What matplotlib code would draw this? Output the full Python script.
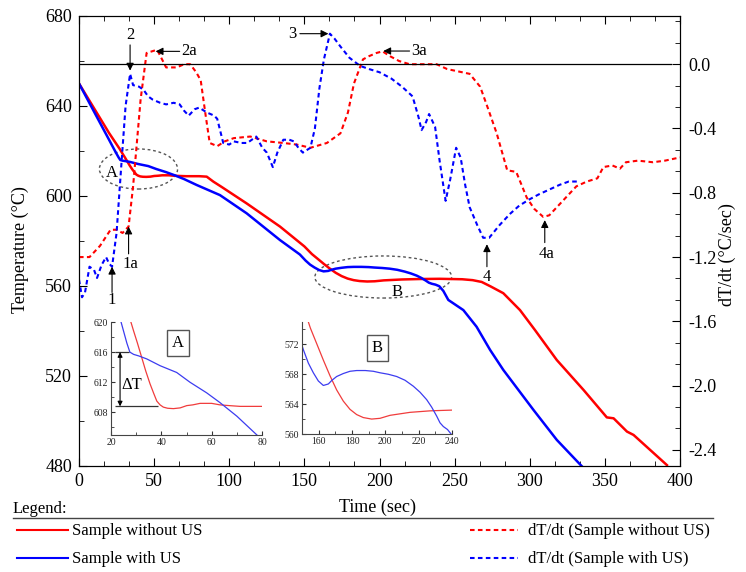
import matplotlib
matplotlib.use('Agg')
from matplotlib import pyplot as plt
from matplotlib.patches import Ellipse
from matplotlib.lines import Line2D
from matplotlib.ticker import MultipleLocator, FormatStrFormatter

plt.rcParams['font.family'] = ['Liberation Serif', 'DejaVu Serif']
plt.rcParams['axes.unicode_minus'] = False

# temperature, sample without US
t_without = [0, 10, 20, 27, 28.9, 30.5, 32.2, 33.8, 35.5, 37, 38.2, 39.5, 40.8, 42.5, 44.8, 47.5, 50.1,
             52.5, 55.4, 60, 63.3, 67, 71.3, 76, 80, 85, 89.4, 95, 111.6, 133.8, 150, 155, 159, 162.8,
             166.8, 170.8, 174.8, 178.8, 182.8, 186.8, 191.8, 196.8, 199.8, 202.8, 208.8, 214.8, 220.8,
             226.8, 233, 240, 255, 262, 268, 274, 282.4, 293.5, 303.5, 318, 335.8, 351.3, 355.8, 364.7,
             369.1, 391.3]
T_without = [650, 639, 628, 621, 618.9, 617.2, 615.3, 613.5, 611.8, 610.5, 609.5, 609.0, 608.7, 608.55, 608.5, 608.6, 608.9,
             609.0, 609.2, 609.2, 609.0, 608.9, 608.8, 608.8, 608.8, 608.6, 606.4, 604, 596.7, 586.4, 577.6, 574.2, 572, 569.9,
             567.8, 565.9, 564.4, 563.3, 562.6, 562.2, 562.0, 562.1, 562.3, 562.5, 562.7, 562.9, 563.0,
             563.1, 563.15, 563.2, 563.0, 562.6, 561.8, 559.8, 556.8, 549.3, 540.4, 527.1, 513.8, 501.6, 501.2, 495.3,
             493.8, 480.4]

# temperature, sample with US
t_with = [0, 10, 20, 23.5, 24.9, 26.3, 27.5, 29, 31, 34.2, 39.5, 46.1, 51.4, 58, 63.3, 70, 78.3, 93.8, 111.6,
          133.8, 147, 150.8, 153.8, 156.8, 159.8, 162.8, 165.8, 168, 170.8, 174.8, 178.8, 182.8, 188, 192.8,
          196.8, 201.8, 206.8, 211.8, 216.8, 220.8, 224.8, 227.8, 230.8, 232.8, 234.8, 237.3, 239.8, 242.5,
          245.8, 255.8, 264.6, 273.6, 282.4, 302.5, 318, 334.5]
T_with = [650, 637.5, 625, 620.6, 618.9, 617.2, 616, 615.7, 615.5, 615.1, 614.2, 613.3, 612, 610.6, 609.3, 607.5, 604.9, 600.4, 592.3,
          580.4, 574, 571.3, 569.5, 568.2, 567.1, 566.5, 566.7, 567.2, 567.7, 568.1, 568.4, 568.5, 568.5, 568.4,
          568.2, 568.0, 567.7, 567.2, 566.4, 565.6, 564.6, 563.6, 562.4, 561.5, 561, 560.6, 559.9, 557.8,
          553.8, 549.3, 541.9, 531.6, 522.7, 504.9, 491.6, 480]

# cooling rate dT/dt, sample without US
rt_without = [0, 7, 14, 21, 25, 29, 33, 36, 41, 45, 52, 58, 65, 70, 74, 78, 81, 84, 87, 92, 97, 103, 114,
              125, 136, 145, 154, 165, 174, 179, 183, 189, 193, 198, 202, 207, 213, 220, 238, 245, 260,
              267, 272, 278, 285, 291, 298, 303, 309, 313, 318, 325, 331, 338, 345, 349, 355, 360, 364,
              372, 382, 390, 400]
rate_without = [-1.2, -1.2, -1.13, -1.03, -1.03, -1.05, -1.01, -0.76, -0.22, 0.07, 0.09, -0.02, -0.02, 0.0, 0.0, -0.05, -0.1, -0.3, -0.49, -0.51, -0.48, -0.46, -0.45,
                -0.48, -0.49, -0.5, -0.52, -0.49, -0.43, -0.3, -0.12, 0.03, 0.05, 0.07, 0.08, 0.05, 0.02, 0.0, 0.0, -0.03, -0.06,
                -0.14, -0.27, -0.43, -0.66, -0.67, -0.83, -0.9, -0.95, -0.94, -0.89, -0.82, -0.76, -0.73, -0.71, -0.64, -0.63, -0.65, -0.61,
                -0.6, -0.61, -0.6, -0.58]

# cooling rate dT/dt, sample with US
rt_with = [0, 2, 4, 7, 10, 12, 15, 18, 20, 22, 25, 28, 31, 34, 36, 40, 43, 46, 49, 54, 58, 63, 67, 70, 73,
           77, 80, 85, 90, 92, 96, 100, 103, 108, 112, 115, 118, 122, 125, 129, 132, 136, 140, 143, 146,
           149, 154, 157, 160, 163, 167, 170, 174, 180, 187, 193, 200, 208, 215, 222, 226, 228, 231, 233,
           235, 237, 240, 244, 247, 251, 254, 257, 260, 265, 269, 273, 280, 287, 293, 300, 306, 313, 320,
           326, 333]
rate_with = [-1.34, -1.45, -1.42, -1.26, -1.28, -1.33, -1.25, -1.2, -1.24, -1.26, -1.05, -0.65, -0.26, -0.06, -0.13, -0.14, -0.16, -0.2, -0.22, -0.24, -0.25, -0.24, -0.25, -0.29, -0.32,
             -0.28, -0.27, -0.3, -0.32, -0.34, -0.49, -0.5, -0.48, -0.49, -0.49, -0.47, -0.45, -0.52, -0.55, -0.64, -0.55, -0.47, -0.47, -0.48, -0.52,
             -0.55, -0.52, -0.4, -0.15, 0.03, 0.19, 0.16, 0.11, 0.04, -0.01, -0.03, -0.05, -0.09, -0.14, -0.2, -0.33, -0.41, -0.36, -0.31,
             -0.35, -0.39, -0.6, -0.85, -0.72, -0.52, -0.58, -0.75, -0.89, -1.0, -1.08, -1.08, -1.0, -0.93, -0.88, -0.84, -0.81, -0.78, -0.75,
             -0.73, -0.73]

# arrow labels on the dT/dt curves: (label, tip, tail, text position, ha)
markers = [
    ('1', (22, -1.26), (22, -1.42), (22, -1.47), 'center'),
    ('1a', (33, -1.01), (33, -1.18), (34, -1.24), 'center'),
    ('2', (34, -0.04), (34, 0.12), (34, 0.18), 'center'),
    ('2a', (51, 0.08), (67, 0.08), (68, 0.08), 'left'),
    ('3', (166, 0.19), (147, 0.19), (145, 0.19), 'right'),
    ('3a', (202.5, 0.082), (220, 0.082), (221, 0.082), 'left'),
    ('4', (271.5, -1.12), (271.5, -1.26), (271.5, -1.325), 'center'),
    ('4a', (310, -0.97), (310, -1.11), (311, -1.18), 'center'),
]

RED = '#ff0000'
BLUE = '#0000ff'
W, H = 746, 572


def box(x0, y0, x1, y1):
    return [x0 / W, 1 - y1 / H, (x1 - x0) / W, (y1 - y0) / H]


fig = plt.figure(figsize=(W / 100, H / 100), dpi=100)
ax = fig.add_axes(box(79, 16, 680, 466))
ax2 = ax.twinx()

ax.plot(t_without, T_without, color=RED, lw=1.8)
ax.plot(t_with, T_with, color=BLUE, lw=1.8)
dash = (0, (2.2, 1.6))
ax2.plot(rt_without, rate_without, color=RED, lw=1.5, ls=dash)
ax2.plot(rt_with, rate_with, color=BLUE, lw=1.5, ls=dash)
ax2.axhline(0, xmax=0.985, color='k', lw=0.9)

ax.set_xlim(0, 400)
ax.set_ylim(480, 680)
ax2.set_ylim(-2.5, 0.3)
ax.xaxis.set_major_locator(MultipleLocator(50))
ax.xaxis.set_minor_locator(MultipleLocator(50 / 3))
ax.yaxis.set_major_locator(MultipleLocator(40))
ax.yaxis.set_minor_locator(MultipleLocator(20))
ax2.yaxis.set_major_locator(MultipleLocator(0.4))
ax2.yaxis.set_minor_locator(MultipleLocator(0.4 / 3))
ax2.yaxis.set_major_formatter(FormatStrFormatter('%.1f'))

ax.tick_params(which='both', direction='in', top=True, labelsize=13, pad=5)
ax.tick_params(which='major', length=6)
ax.tick_params(which='minor', length=3.5)
ax2.tick_params(which='both', direction='in', labelsize=13, pad=6)
ax2.tick_params(which='major', length=6)
ax2.tick_params(which='minor', length=3.5)

ax.set_xlabel('Time (sec)', fontsize=13)
ax.xaxis.set_label_coords(0.4975, -0.072)
ax.set_ylabel('Temperature (°C)', fontsize=13)
ax.yaxis.set_label_coords(-0.083, 0.48)
ax2.set_ylabel('dT/dt (°C/sec)', fontsize=13, rotation=90)
ax2.yaxis.set_label_coords(1.065, 0.47)

# dashed ellipses marking regions A and B
ax.add_patch(Ellipse((39.6, 612), 52, 17.8, fill=False, ls=(0, (2, 2)), lw=1, ec='#555555'))
ax.add_patch(Ellipse((202.5, 564), 91, 18.7, fill=False, ls=(0, (2, 2)), lw=1, ec='#555555'))
ax.text(22, 610.2, 'A', fontsize=12, ha='center', va='center')
ax.text(211.6, 557.3, 'B', fontsize=12, ha='center', va='center')

for label, tip, tail, pos, ha in markers:
    ax2.annotate('', xy=tip, xytext=tail,
                 arrowprops=dict(arrowstyle='-|>', color='k', lw=0.8, mutation_scale=11, shrinkA=0, shrinkB=0))
    ax2.text(pos[0], pos[1], label, fontsize=12, ha=ha, va='center')

# inset A
axa = fig.add_axes(box(111, 322, 262, 435))
axa.patch.set_alpha(0)
axa.plot(t_without, T_without, color='#f03c3c', lw=0.9)
axa.plot(t_with, T_with, color='#3c3cf0', lw=0.9)
axa.set_xlim(20, 80)
axa.set_ylim(605, 620)
axa.xaxis.set_major_locator(MultipleLocator(20))
axa.xaxis.set_minor_locator(MultipleLocator(10))
axa.yaxis.set_major_locator(MultipleLocator(4))
axa.yaxis.set_minor_locator(MultipleLocator(2))
axa.annotate('', xy=(23.6, 616), xytext=(23.6, 608.8),
             arrowprops=dict(arrowstyle='<|-|>', color='k', lw=0.8, mutation_scale=7, shrinkA=0, shrinkB=0))
axa.hlines([616, 608.8], [21.6, 21.6], [27.2, 38.6], color='#333333', lw=0.9)
axa.text(24.3, 611.7, 'ΔT', fontsize=12, ha='left', va='center')
axa.text(46.6, 617.2, 'A', fontsize=12, ha='center', va='center',
         bbox=dict(boxstyle='square,pad=0.3', fc='white', ec='#555555', lw=1))

# inset B
axb = fig.add_axes(box(302, 322, 452, 434))
axb.patch.set_alpha(0)
axb.plot(t_without, T_without, color='#f03c3c', lw=0.9)
axb.plot(t_with, T_with, color='#3c3cf0', lw=0.9)
axb.set_xlim(150, 240)
axb.set_ylim(560, 575)
axb.xaxis.set_major_locator(MultipleLocator(20))
axb.xaxis.set_minor_locator(MultipleLocator(10))
axb.yaxis.set_major_locator(MultipleLocator(4))
axb.yaxis.set_minor_locator(MultipleLocator(2))
axb.text(195, 571.5, 'B', fontsize=12, ha='center', va='center',
         bbox=dict(boxstyle='square,pad=0.3', fc='white', ec='#555555', lw=1))

for a in (axa, axb):
    a.spines['top'].set_visible(False)
    a.spines['right'].set_visible(False)
    for s in ('left', 'bottom'):
        a.spines[s].set_color('#444444')
        a.spines[s].set_linewidth(0.8)
    a.tick_params(which='both', direction='in', labelsize=7, pad=2, colors='#333333')
    a.tick_params(which='major', length=3)
    a.tick_params(which='minor', length=2)
    for lab in a.get_xticklabels() + a.get_yticklabels():
        lab.set_color('#222222')

# legend block under the chart
fig.text(13 / W, 1 - 509 / H, 'Legend:', fontsize=12, ha='left', va='center')
fig.add_artist(Line2D([13 / W, 713 / W], [1 - 518 / H, 1 - 518 / H], color='#444444', lw=1))
entries = [
    (17, 68, 72, 530, RED, '-', 'Sample without US'),
    (17, 68, 72, 558, BLUE, '-', 'Sample with US'),
    (470, 518, 528, 530, RED, dash, 'dT/dt (Sample without US)'),
    (470, 518, 528, 558, BLUE, dash, 'dT/dt (Sample with US)'),
]
for x0, x1, xt, y, col, ls, name in entries:
    fig.add_artist(Line2D([x0 / W, x1 / W], [1 - y / H, 1 - y / H], color=col, ls=ls, lw=1.5))
    fig.text(xt / W, 1 - (y + 1) / H, name, fontsize=12, ha='left', va='center')

fig.savefig('out.png', dpi=100)
